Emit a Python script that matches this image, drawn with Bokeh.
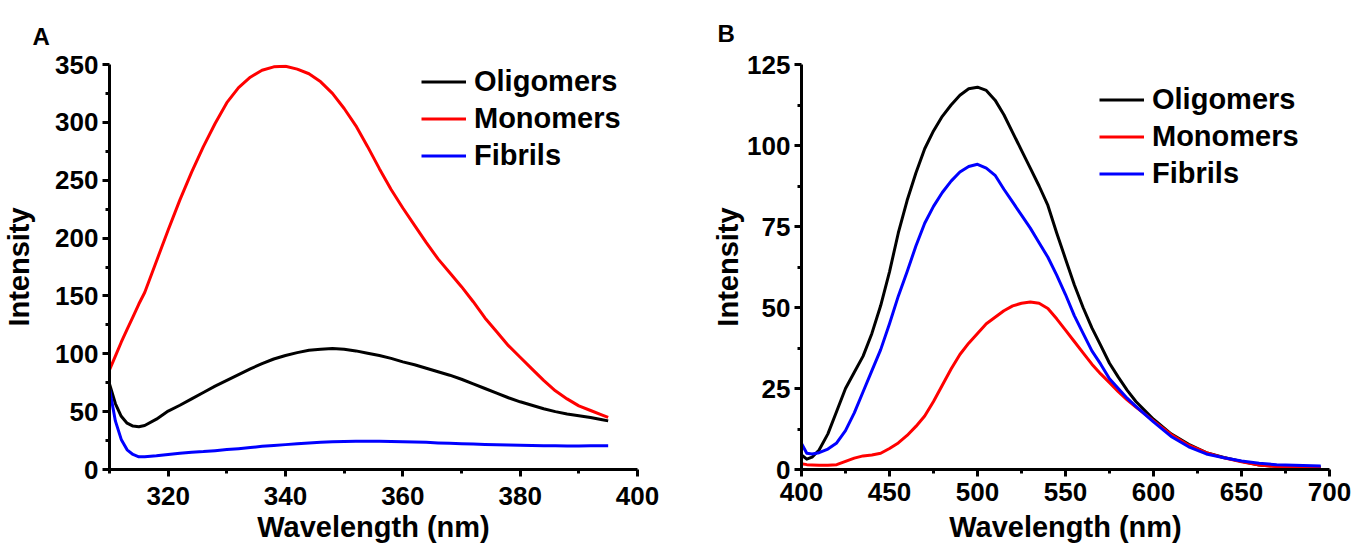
from bokeh.plotting import figure
from bokeh.models import Range1d, FixedTicker, Legend, LegendItem, Title, LinearAxis
from bokeh.layouts import row
from bokeh.embed import file_html
from bokeh.resources import INLINE

# ---------------- data: panel A ----------------
wl_a = [310, 311, 312, 313, 314, 315, 316, 318, 320, 322, 324, 326, 328, 330, 332,
        334, 336, 338, 340, 342, 344, 346, 348, 350, 352, 354, 356, 358, 360, 362,
        364, 366, 368, 370, 372, 374, 376, 378, 380, 382, 384, 386, 388, 390, 392,
        394, 395]
oligomers_a = [74, 57, 46, 40, 37.5, 37, 38, 43.5, 50.5, 55.5, 61, 66.5, 72, 77, 82,
               87, 91.5, 95.5, 98.5, 101, 103, 104, 104.5, 104, 102.5, 100.5, 98.5, 96, 93, 90.5,
               87.5, 84.5, 81.5, 78, 74, 70, 66, 62, 58.5, 55.5, 52.5, 50, 48, 46.5, 45,
               43, 42]
monomers_a = [86, 98, 110, 121, 132, 143, 153, 180, 207, 233, 257, 279, 299, 317, 330,
              339, 345, 348, 348.5, 346, 342, 335, 325, 312, 297, 279, 260, 242, 226, 211,
              196, 182, 170, 158, 145, 131, 119, 107, 97, 87, 77, 68, 61, 55, 51,
              47, 45]
fibrils_a = [70, 42, 26, 17, 13, 11, 11, 11.8, 13, 14, 15, 15.5, 16.3, 17.2, 18,
             19, 20, 20.8, 21.5, 22.2, 23, 23.5, 24, 24.3, 24.5, 24.5, 24.5, 24.3, 24, 23.8,
             23.5, 23, 22.6, 22.2, 22, 21.7, 21.4, 21.1, 20.9, 20.7, 20.6, 20.5, 20.4, 20.4, 20.5,
             20.5, 20.5]

# ---------------- data: panel B ----------------
wl_b = [400, 403, 406, 410, 415, 420, 425, 430, 435, 440, 445, 450, 455, 460, 465,
        470, 475, 480, 485, 490, 495, 500, 505, 510, 515, 520, 525, 530, 535, 540,
        545, 550, 555, 560, 565, 570, 575, 580, 585, 590, 600, 610, 620, 630, 640,
        650, 660, 670, 680, 695]
oligomers_b = [4.5, 3.2, 3.8, 6, 11, 18, 25, 30, 35, 42, 50.6, 61, 73, 83, 91.5,
               99, 104.5, 109, 112.5, 115.5, 117.5, 118, 117, 114, 109.5, 104, 98.5, 93, 87.5, 81.5,
               73, 65, 57, 50, 43.7, 38.3, 32.8, 28.5, 24.5, 21, 15.5, 11, 7.8, 5.2, 3.7,
               2.5, 1.4, 1.0, 0.9, 0.8]
monomers_b = [1.8, 1.5, 1.4, 1.3, 1.3, 1.5, 2.5, 3.5, 4.2, 4.5, 5, 6.5, 8.2, 10.5, 13.3,
              16.5, 21, 26, 31, 35.5, 39, 42, 45, 47, 49, 50.5, 51.3, 51.7, 51.3, 49.7,
              46.5, 43, 39.5, 36, 32.5, 29.5, 26.8, 24, 21.5, 19.3, 15, 10.8, 7.5, 5.2, 3.6,
              2.4, 1.4, 0.9, 0.6, 0.3]
fibrils_b = [8, 5, 4.8, 5.2, 6.3, 8.2, 12, 17.5, 24, 30.5, 37, 45, 53.5, 61, 69,
             76, 81.2, 85.5, 89, 91.8, 93.5, 94.2, 93, 90.8, 86.5, 82.5, 78.5, 74.5, 70, 65.5,
             60, 54, 47.5, 42, 36.6, 32.5, 28, 25, 22, 19.5, 14.7, 10.2, 7, 4.8, 3.6,
             2.6, 1.9, 1.5, 1.3, 1.1]

series_names = ["Oligomers", "Monomers", "Fibrils"]
series_colors = ["#000000", "#ff0000", "#0000ff"]

xticks_a = [320, 340, 360, 380, 400]
xminor_a = [310, 330, 350, 370, 390]
yticks_a = [0, 50, 100, 150, 200, 250, 300, 350]
yminor_a = [25, 75, 125, 175, 225, 275, 325]

xticks_b = [400, 450, 500, 550, 600, 650, 700]
xminor_b = [425, 475, 525, 575, 625, 675]
yticks_b = [0, 25, 50, 75, 100, 125]
yminor_b = [12.5, 37.5, 62.5, 87.5, 112.5]

FONT = "Liberation Sans"


def style(p, xt, xm, yt, ym, std):
    xls, xts, yts = std
    p.xgrid.visible = False
    p.ygrid.visible = False
    p.outline_line_color = None
    p.xaxis.ticker = FixedTicker(ticks=xt, minor_ticks=xm)
    p.yaxis.ticker = FixedTicker(ticks=yt, minor_ticks=ym)
    for ax in (p.xaxis[0], p.yaxis[0]):
        ax.axis_line_width = 3
        ax.axis_line_color = "black"
        ax.major_tick_line_width = 3
        ax.minor_tick_line_width = 3
        ax.major_tick_line_color = "black"
        ax.minor_tick_line_color = "black"
        ax.major_tick_out = 7
        ax.major_tick_in = 0
        ax.minor_tick_out = 4
        ax.minor_tick_in = 0
        ax.major_label_text_font = FONT
        ax.major_label_text_font_size = "26px"
        ax.major_label_text_font_style = "bold"
        ax.major_label_text_color = "black"
        ax.axis_label_text_font = FONT
        ax.axis_label_text_font_size = "29px"
        ax.axis_label_text_font_style = "bold"
        ax.axis_label_text_color = "black"
    p.yaxis[0].major_label_standoff = 4
    p.xaxis[0].major_label_standoff = xls
    p.xaxis[0].axis_label_standoff = xts
    p.yaxis[0].axis_label_standoff = yts
    p.xaxis[0].axis_label = "Wavelength (nm)"
    p.yaxis[0].axis_label = "Intensity"


def panel(width, height, borders, xr, yr, wl, ys, ticks, leg_loc, letter, letter_off,
          letter_std, spacer_px, std):
    l, r, t, b = borders
    p = figure(width=width, height=height, x_range=Range1d(*xr), y_range=Range1d(*yr),
               output_backend="svg", toolbar_location=None, title=None,
               min_border_left=l, min_border_right=r, min_border_top=t, min_border_bottom=b)
    style(p, *ticks, std)
    rends = []
    for yv, c in zip(ys, series_colors):
        rends.append(p.line(wl, yv, line_color=c, line_width=3, line_join="round"))
    items = [LegendItem(label=n, renderers=[rr]) for n, rr in zip(series_names, rends)]
    leg = Legend(items=items, location=leg_loc, orientation="vertical",
                 glyph_width=45, glyph_height=33, label_height=33, label_standoff=8,
                 spacing=4, padding=0, margin=0, border_line_color=None,
                 background_fill_alpha=0, label_text_font=FONT,
                 label_text_font_size="29px", label_text_font_style="bold",
                 label_text_color="black")
    p.add_layout(leg)
    if spacer_px is not None:
        # an empty, invisible axis used only as vertical space above the frame
        spacer = LinearAxis(ticker=FixedTicker(ticks=[], minor_ticks=[]),
                            axis_line_color=None, major_tick_line_color=None,
                            minor_tick_line_color=None, major_tick_out=spacer_px,
                            major_tick_in=0, minor_tick_out=0, minor_tick_in=0,
                            major_label_standoff=0)
        p.add_layout(spacer, "above")
    p.add_layout(Title(text=letter, align="left", offset=letter_off, standoff=letter_std,
                       vertical_align="top",
                       text_font=FONT, text_font_size="24px", text_font_style="bold",
                       text_color="black"), "above")
    return p


pA = panel(670, 545, (108, 33, 64, 76), (310, 400), (0, 350), wl_a,
           [oligomers_a, monomers_a, fibrils_a],
           (xticks_a, xminor_a, yticks_a, yminor_a), (312, 297), "A", -77, 25, 10, (10, 3, 17))
pB = panel(681, 545, (131, 22, 64, 76), (400, 700), (0, 125), wl_b,
           [oligomers_b, monomers_b, fibrils_b],
           (xticks_b, xminor_b, yticks_b, yminor_b), (298, 279), "B", -84, 32, None, (6, 7, 0))

layout = row(pA, pB)
open("out.html", "w").write(file_html(layout, INLINE))
